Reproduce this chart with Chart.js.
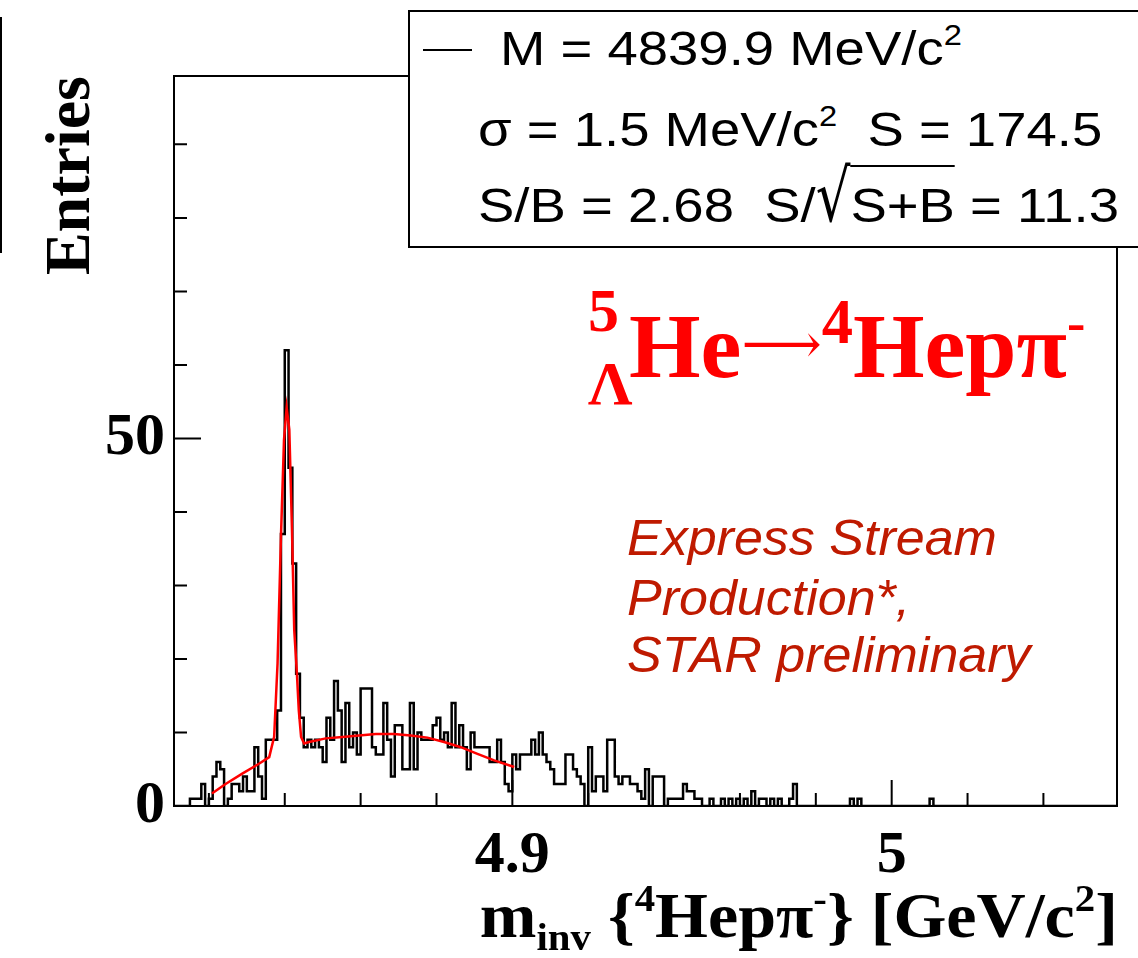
<!DOCTYPE html>
<html><head><meta charset="utf-8">
<script src="https://cdn.jsdelivr.net/npm/chart.js@4.4.1/dist/chart.umd.min.js"></script>
<style>
html,body{margin:0;padding:0;background:#fff;}
#wrap{position:relative;width:1138px;height:958px;overflow:hidden;background:#fff;}
#c{position:absolute;left:0;top:0;}
.t{position:absolute;white-space:nowrap;line-height:0;}
.sans{font-family:"Liberation Sans",Arial,sans-serif;}
.serif{font-family:"Liberation Serif","Times New Roman",serif;font-weight:bold;}
.up{position:relative;font-size:0.6em;}
.box{transform:scaleX(1.135);transform-origin:left;}
</style></head><body>
<div id="wrap">
<canvas id="c" width="1138" height="958"></canvas>
<div style="position:absolute;left:0;top:17px;width:2px;height:236px;background:#000;"></div>
<div style="position:absolute;left:408px;top:10px;width:760px;height:238px;border:2px solid #000;box-sizing:border-box;background:#fff;"></div>
<div style="position:absolute;left:423px;top:49px;width:49px;height:2px;background:#000;"></div>
<div class="t sans box" style="left:500px;top:49px;font-size:48px;">M = 4839.9 MeV/c<span class="up" style="top:-0.68em">2</span></div>
<div class="t sans box" style="left:478px;top:130px;font-size:48px;">σ = 1.5 MeV/c<span class="up" style="top:-0.68em">2</span>&nbsp; S = 174.5</div>
<div class="t sans box" style="left:478px;top:205px;font-size:48px;">S/B = 2.68&nbsp; S/<span style="display:inline-block;font-family:'DejaVu Sans';font-size:48px;transform:scaleY(1.5);transform-origin:50% 20px;">√</span><span style="border-top:2px solid #000;padding-top:12px;">S+B</span> = 11.3</div>
<div class="t serif" style="left:588px;top:310px;font-size:62px;color:#ff0000;">5</div>
<div class="t serif" style="left:588px;top:383px;font-size:62px;color:#ff0000;">Λ</div>
<div class="t serif" style="left:629px;top:346px;font-size:92px;color:#ff0000;">He<span style="font-family:'DejaVu Serif';font-weight:normal;font-size:56px;position:relative;top:-0.25em;">⟶</span><span class="up" style="top:-0.55em;font-size:0.68em">4</span>Hepπ<span class="up" style="top:-0.65em">-</span></div>
<div class="t sans" style="left:627px;top:538px;font-size:50px;font-style:italic;color:#bf1a00;transform:scaleX(1.04);transform-origin:left;">Express Stream</div>
<div class="t sans" style="left:627px;top:598px;font-size:50px;font-style:italic;color:#bf1a00;transform:scaleX(1.04);transform-origin:left;">Production*,</div>
<div class="t sans" style="left:627px;top:655px;font-size:50px;font-style:italic;color:#bf1a00;transform:scaleX(1.04);transform-origin:left;">STAR preliminary</div>
<div class="t serif" style="right:20px;top:916px;font-size:63px;color:#000;transform:scaleX(1.08);transform-origin:right;">m<span class="up" style="top:0.35em">inv</span> {<span class="up" style="top:-0.7em">4</span>Hepπ<span class="up" style="top:-0.7em">-</span>} [GeV/c<span class="up" style="top:-0.7em">2</span>]</div>
</div>
<script>
const binStart = 4.811;
const binWidth = 0.001;
const counts = [
0,0,0,0,1,1,1,3,0,1,
4,6,5,0,1,3,3,2,4,2,
2,8,4,1,9,9,9,13,37,62,
46,33,18,12,8,9,8,9,8,6,
12,9,17,13,6,14,8,10,7,16,
16,16,8,7,7,14,9,4,11,11,
5,5,14,5,10,9,9,9,11,12,
9,10,8,14,8,11,8,5,10,8,
8,8,8,6,6,9,6,3,2,7,
5,7,7,7,9,7,10,7,6,5,
3,3,3,7,7,5,4,3,0,8,
2,4,4,2,9,9,4,3,4,4,
3,3,2,1,5,0,4,4,4,0,
1,1,1,1,3,2,2,1,1,0,
0,1,0,0,1,0,1,0,1,0,
1,0,2,0,1,1,0,1,0,1,
0,0,1,3,0,0,0,0,0,0,
0,0,0,0,0,0,0,0,1,0,
1,0,0,0,0,0,0,0,0,0,
0,0,0,0,0,0,0,0,0,1,
0,0,0,0,0,0,0,0,0,0,
0,0,0,0,0,0,0,0,0,0,
0,0,0,0,0,0,0,0,0,0,
0,0,0,0,0,0,0,0,0,0,
0,0,0,0,0,0,0,0,0
];
const fitMass = [4.8208,4.8244,4.8288,4.8332,4.8359,4.8372,4.8381,4.8390,4.8398,4.8405,4.8412,4.8419,4.8425,4.8432,4.8437,4.8443,4.8451,4.8464,4.8508,4.8552,4.8596,4.8640,4.8688,4.8732,4.8776,4.8820,4.8864,4.8908,4.8952,4.9005];
const fitEntries = [1.7,3.0,4.4,5.75,6.65,9.4,19.4,36.7,49.8,54.2,51.2,37.6,23.9,18.0,13.0,9.4,8.5,8.7,9.2,9.4,9.6,9.8,9.8,9.6,9.3,8.7,8.0,7.1,6.2,5.3];
const xTickLabels = [4.9, 5];
const yTickLabels = [0, 50];
const xMinorTicks = [4.82,4.84,4.86,4.88,4.92,4.94,4.96,4.98,5.02,5.04];
const yMinorTicks = [10,20,30,40,60,70,80,90];

const histPoints = counts.map((c, i) => ({x: binStart + i * binWidth, y: c}));
histPoints.push({x: binStart + counts.length * binWidth, y: 0});
const fitPoints = fitMass.map((m, i) => ({x: m, y: fitEntries[i]}));

const frameTicks = {
  id: 'frameTicks',
  afterDatasetsDraw(chart) {
    const {ctx, chartArea: a, scales: {x, y}} = chart;
    ctx.save();
    ctx.strokeStyle = '#000';
    ctx.lineWidth = 2;
    ctx.strokeRect(a.left, a.top, a.right - a.left, a.bottom - a.top);
    ctx.beginPath();
    xMinorTicks.forEach(v => { const p = x.getPixelForValue(v); ctx.moveTo(p, a.bottom); ctx.lineTo(p, a.bottom - 13); });
    xTickLabels.forEach(v => { const p = x.getPixelForValue(v); ctx.moveTo(p, a.bottom); ctx.lineTo(p, a.bottom - 26); });
    yMinorTicks.forEach(v => { const p = y.getPixelForValue(v); ctx.moveTo(a.left, p); ctx.lineTo(a.left + 13, p); });
    yTickLabels.forEach(v => { const p = y.getPixelForValue(v); ctx.moveTo(a.left, p); ctx.lineTo(a.left + 27, p); });
    ctx.stroke();
    ctx.restore();
  }
};

new Chart(document.getElementById('c'), {
  type: 'line',
  data: {
    datasets: [
      {data: fitPoints, borderColor: '#ff0000', borderWidth: 2.5, pointRadius: 0, fill: false, tension: 0, order: 0},
      {data: histPoints, borderColor: '#000', borderWidth: 2.5, pointRadius: 0, fill: false, stepped: true, order: 1}
    ]
  },
  options: {
    responsive: false,
    devicePixelRatio: 1,
    animation: false,
    layout: {padding: {left: 0, top: 76, right: 21, bottom: 0}},
    plugins: {legend: {display: false}, tooltip: {enabled: false}},
    scales: {
      x: {
        type: 'linear', min: 4.8108, max: 5.0594,
        grid: {display: false, drawTicks: false}, border: {display: false},
        afterBuildTicks: s => { s.ticks = xTickLabels.map(v => ({value: v})); },
        afterFit: s => { s.height = 152; },
        ticks: {padding: 14, color: '#000', autoSkip: false, maxRotation: 0,
          font: {family: 'Liberation Serif', weight: 'bold', size: 60},
          callback: v => String(v)}
      },
      y: {
        type: 'linear', min: 0, max: 99.3,
        grid: {display: false, drawTicks: false}, border: {display: false},
        afterBuildTicks: s => { s.ticks = yTickLabels.map(v => ({value: v})); },
        afterFit: s => { s.width = 174; },
        ticks: {padding: 9, color: '#000', autoSkip: false,
          font: {family: 'Liberation Serif', weight: 'bold', size: 60},
          callback: v => String(v)},
        title: {display: true, text: 'Entries', align: 'end', color: '#000',
          font: {family: 'Liberation Serif', weight: 'bold', size: 64},
          padding: {top: 34, bottom: 0}}
      }
    }
  },
  plugins: [frameTicks]
});
</script>
</body></html>
